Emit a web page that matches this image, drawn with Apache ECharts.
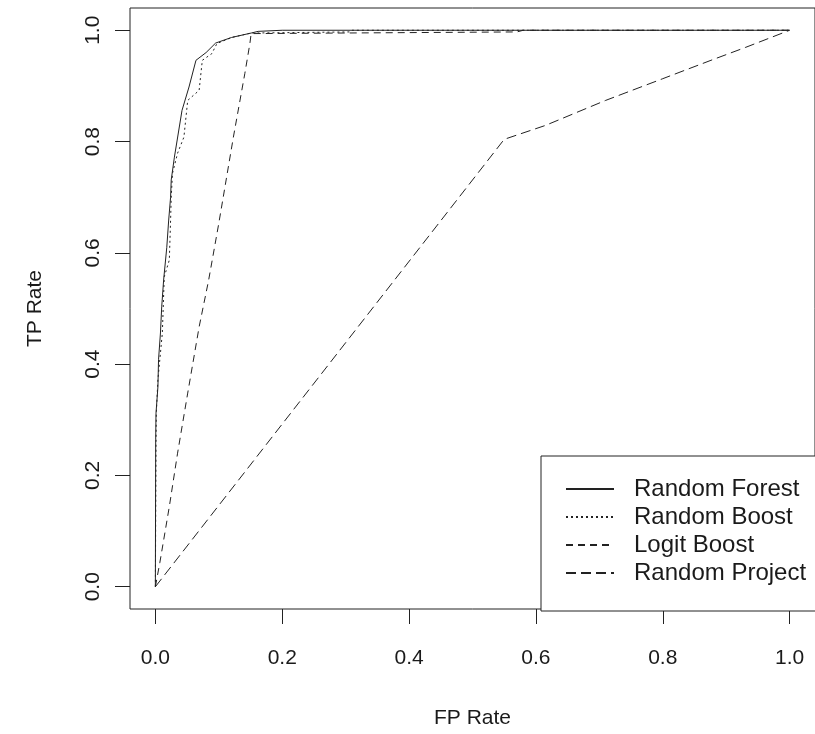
<!DOCTYPE html>
<html>
<head>
<meta charset="utf-8">
<script src="https://cdn.jsdelivr.net/npm/echarts@6/dist/echarts.min.js"></script>
<style>
  html, body { margin: 0; padding: 0; background: #fff; }
  #main { width: 815px; height: 734px; }
</style>
</head>
<body>
<div id="main"></div>
<script>
// ROC curves, FP rate vs TP rate
var seriesNames = ['Random Forest', 'Random Boost', 'Logit Boost', 'Random Project']
var tickValues = [0, 0.2, 0.4, 0.6, 0.8, 1.0]

var rfFp = [0, 0.0005, 0.001, 0.004, 0.005, 0.008, 0.010, 0.013, 0.018, 0.021, 0.024, 0.025, 0.030, 0.042, 0.053, 0.064, 0.080, 0.095, 0.120, 0.151, 0.162, 0.20, 1.0]
var rfTp = [0, 0.264, 0.312, 0.359, 0.408, 0.456, 0.503, 0.551, 0.610, 0.659, 0.700, 0.731, 0.772, 0.856, 0.898, 0.946, 0.960, 0.977, 0.987, 0.995, 0.998, 1.0, 1.0]

var rbFp = [0, 0.001, 0.0015, 0.004, 0.011, 0.014, 0.022, 0.024, 0.025, 0.027, 0.035, 0.045, 0.051, 0.069, 0.074, 0.089, 0.097, 0.120, 0.151, 0.306, 0.31, 1.0]
var rbTp = [0, 0.255, 0.312, 0.372, 0.456, 0.557, 0.587, 0.659, 0.700, 0.743, 0.779, 0.808, 0.874, 0.892, 0.946, 0.958, 0.976, 0.987, 0.995, 0.997, 1.0, 1.0]

var lbFp = [0, 0.007, 0.022, 0.035, 0.051, 0.069, 0.084, 0.100, 0.123, 0.141, 0.149, 0.151, 0.57, 0.58, 1.0]
var lbTp = [0, 0.043, 0.144, 0.240, 0.348, 0.467, 0.551, 0.653, 0.808, 0.922, 0.976, 0.994, 0.997, 1.0, 1.0]

var rpFp = [0, 0.550, 0.615, 0.710, 0.800, 0.876, 0.930, 1.0]
var rpTp = [0, 0.804, 0.829, 0.874, 0.913, 0.946, 0.969, 1.0]

function pairs(xs, ys) {
  return xs.map(function (x, i) { return [x, ys[i]] })
}

var lineColor = '#222'
var textColor = '#1a1a1a'
var font = 'Liberation Sans, Arial, sans-serif'

function mkSeries(name, xs, ys, dash) {
  return {
    name: name,
    type: 'line',
    data: pairs(xs, ys),
    symbol: 'none',
    lineStyle: { color: lineColor, width: 1, type: dash },
    itemStyle: { color: lineColor },
    emphasis: { disabled: true }
  }
}

var chart = echarts.init(document.getElementById('main'), null, { renderer: 'canvas' })

var option = {
  animation: false,
  backgroundColor: '#fff',
  textStyle: { fontFamily: font },
  grid: {
    show: true,
    left: 130,
    top: 8,
    width: 696,
    height: 602,
    borderColor: '#222',
    borderWidth: 1,
    backgroundColor: 'transparent'
  },
  xAxis: {
    type: 'value',
    min: -0.04,
    max: 1.04,
    name: 'FP Rate',
    nameLocation: 'middle',
    nameGap: 99,
    nameTextStyle: { fontSize: 21, color: textColor, fontFamily: font },
    axisLine: { show: false, onZero: false },
    splitLine: { show: false },
    axisTick: { show: true, inside: false, length: 15, customValues: tickValues, lineStyle: { color: '#222' } },
    axisLabel: {
      customValues: tickValues,
      margin: 39,
      fontSize: 21,
      color: textColor,
      fontFamily: font,
      formatter: function (v) { return v.toFixed(1) }
    }
  },
  yAxis: {
    type: 'value',
    min: -0.04,
    max: 1.04,
    name: 'TP Rate',
    nameLocation: 'middle',
    nameGap: 84,
    nameRotate: 90,
    nameTextStyle: { fontSize: 21, color: textColor, fontFamily: font },
    axisLine: { show: false, onZero: false },
    splitLine: { show: false },
    axisTick: { show: true, inside: false, length: 15, customValues: tickValues, lineStyle: { color: '#222' } },
    axisLabel: {
      customValues: tickValues,
      rotate: 90,
      margin: 26,
      fontSize: 21,
      color: textColor,
      fontFamily: font,
      formatter: function (v) { return v.toFixed(1) }
    }
  },
  legend: {
    data: seriesNames,
    orient: 'vertical',
    left: 541,
    top: 456,
    padding: [21, 40, 26, 24],
    itemWidth: 48,
    itemHeight: 21,
    itemGap: 4,
    selectedMode: false,
    borderColor: '#222',
    borderWidth: 1,
    backgroundColor: '#fff',
    itemStyle: { color: 'transparent', borderWidth: 0, opacity: 0 },
    textStyle: { fontSize: 24, color: textColor, fontFamily: font, padding: [0, 0, 0, 15], lineHeight: 22 }
  },
  series: [
    mkSeries(seriesNames[0], rfFp, rfTp, 'solid'),
    mkSeries(seriesNames[1], rbFp, rbTp, [2, 3]),
    mkSeries(seriesNames[2], lbFp, lbTp, [7, 5]),
    mkSeries(seriesNames[3], rpFp, rpTp, [10, 5])
  ]
}

chart.setOption(option)
</script>
</body>
</html>
